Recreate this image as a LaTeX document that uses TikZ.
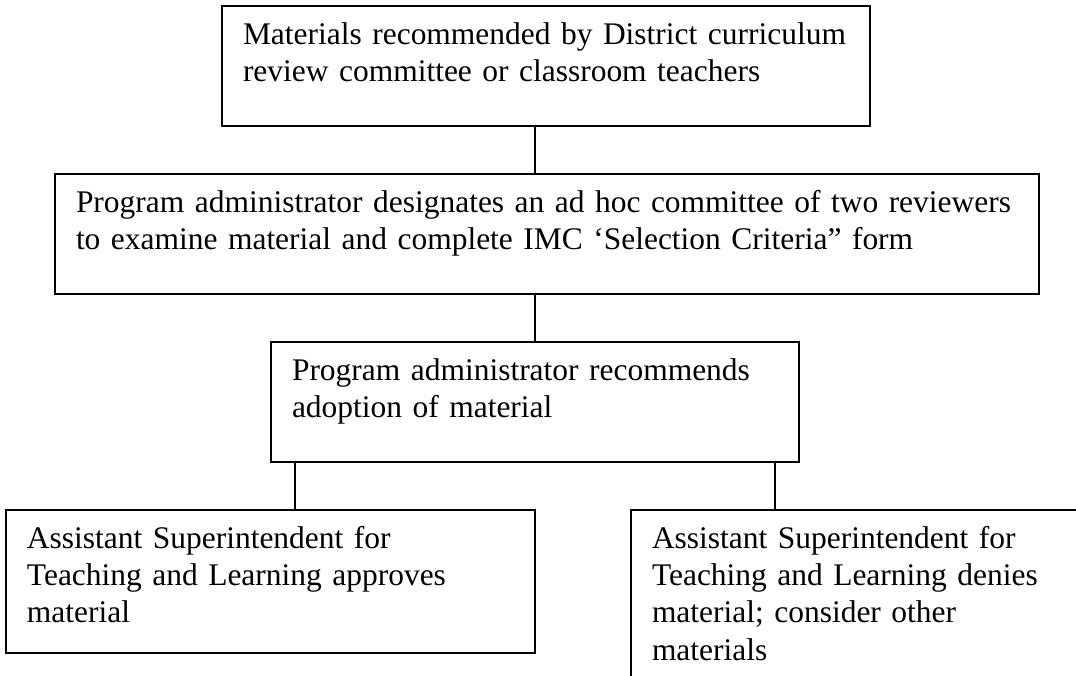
\documentclass[tikz,border=0pt]{standalone}
\usepackage{fontspec}
\setmainfont{Liberation Serif}
\usetikzlibrary{
    positioning,   % Relative positioning
    calc           % Coordinate calculations
}

\begin{document}
\begin{tikzpicture}[x=0.375pt,y=-0.375pt,
    stagebox/.style={draw,line width=0.75pt,anchor=north west,outer sep=0pt,
        inner xsep=7.875pt,inner ysep=0pt,align=left,text height=14.25pt,
        font=\fontsize{11.8pt}{14pt}\selectfont},
    link/.style={line width=0.75pt}]
    \clip (0,0) rectangle (1076,675);
    % the chain of review steps
    \node[stagebox,text width=227.25pt,text depth=30.75pt] (review) at (222,6)
        {\mbox{Materials recommended by District curriculum}\\review committee or classroom teachers};
    \node[stagebox,text width=353.25pt,text depth=30.75pt] (panel) at (55,174)
        {\mbox{Program administrator designates an ad hoc committee of two reviewers}\\to examine material and complete IMC ‘Selection Criteria” form};
    \node[stagebox,text width=182.25pt,text depth=30.75pt] (recommend) at (271,342)
        {Program administrator recommends\\adoption of material};
    % the two outcomes
    \node[stagebox,text width=182.625pt,text depth=39.375pt] (approve) at (6,510)
        {Assistant Superintendent for\\Teaching and Learning approves\\material};
    \node[stagebox,text width=153.75pt,text depth=75pt] (deny) at (631,510)
        {Assistant Superintendent for\\Teaching and Learning denies\\material; consider other\\materials};
    % connectors
    \draw[link] (recommend.north |- review.south) -- (recommend.north |- panel.north);
    \draw[link] (recommend.north |- panel.south) -- (recommend.north);
    \draw[link] ([xshift=9pt]recommend.south west) -- ([xshift=9pt]recommend.south west |- approve.north);
    \draw[link] ([xshift=-9pt]recommend.south east) -- ([xshift=-9pt]recommend.south east |- deny.north);
\end{tikzpicture}
\end{document}
